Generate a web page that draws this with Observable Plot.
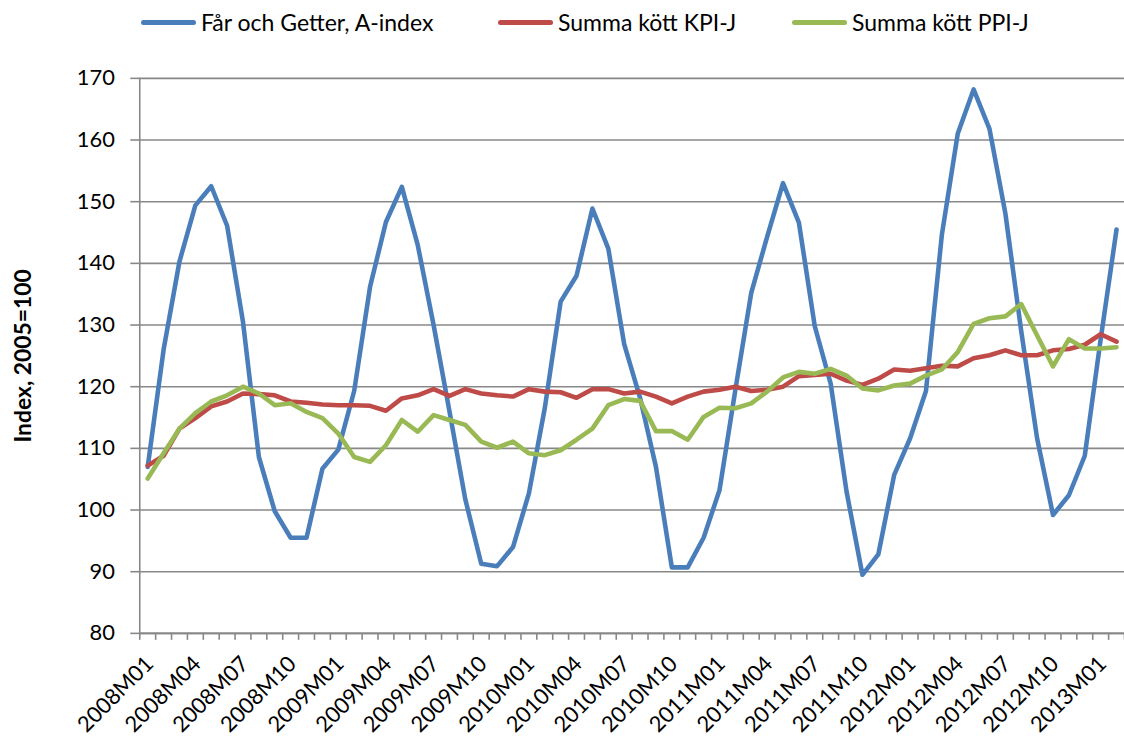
<!DOCTYPE html>
<html>
<head>
<meta charset="utf-8">
<script src="https://cdn.jsdelivr.net/npm/d3@7"></script>
<script src="https://cdn.jsdelivr.net/npm/@observablehq/plot@0.6"></script>
<style>
  html, body { margin: 0; padding: 0; background: #fff; overflow: hidden; }
  body { width: 1124px; height: 745px; font-family: Lato, "Open Sans", sans-serif; }
  #legend { position: relative; height: 50px; width: 1124px; }
  .item { position: absolute; top: 9px; height: 26px; display: flex; align-items: center; font-size: 23px; color: #000; white-space: nowrap; }
  .sw { width: 55px; height: 5px; border-radius: 3px; margin-right: 5px; }
  #chart svg { display: block; }
</style>
</head>
<body>
<div id="legend"></div>
<div id="chart"></div>
<script>
const months = [
  "2008M01","2008M02","2008M03","2008M04","2008M05","2008M06","2008M07","2008M08","2008M09","2008M10","2008M11","2008M12",
  "2009M01","2009M02","2009M03","2009M04","2009M05","2009M06","2009M07","2009M08","2009M09","2009M10","2009M11","2009M12",
  "2010M01","2010M02","2010M03","2010M04","2010M05","2010M06","2010M07","2010M08","2010M09","2010M10","2010M11","2010M12",
  "2011M01","2011M02","2011M03","2011M04","2011M05","2011M06","2011M07","2011M08","2011M09","2011M10","2011M11","2011M12",
  "2012M01","2012M02","2012M03","2012M04","2012M05","2012M06","2012M07","2012M08","2012M09","2012M10","2012M11","2012M12",
  "2013M01","2013M02"
];
const tickLabels = ["2008M01","2008M04","2008M07","2008M10","2009M01","2009M04","2009M07","2009M10",
  "2010M01","2010M04","2010M07","2010M10","2011M01","2011M04","2011M07","2011M10",
  "2012M01","2012M04","2012M07","2012M10","2013M01"];
const yTicks = [80, 90, 100, 110, 120, 130, 140, 150, 160, 170];

const seriesNames = ["Får och Getter, A-index", "Summa kött KPI-J", "Summa kött PPI-J"];
const seriesColors = ["#4A7EBB", "#BE4B48", "#98B954"];

const farGetter = [
  107.0, 126.0, 140.3, 149.4, 152.5, 146.1, 130.5, 108.6, 99.8, 95.5, 95.5, 106.7,
  109.8, 119.3, 136.2, 146.7, 152.4, 143.0, 130.0, 116.0, 101.7, 91.3, 90.9, 94.0,
  102.7, 116.5, 133.8, 138.0, 148.9, 142.4, 126.9, 118.2, 107.0, 90.7, 90.7, 95.5,
  103.2, 119.5, 135.2, 144.3, 153.0, 146.6, 129.8, 120.5, 103.0, 89.5, 92.8, 105.7,
  111.6, 119.3, 144.6, 161.0, 168.2, 161.8, 148.1, 129.0, 111.6, 99.2, 102.4, 108.8,
  127.7, 145.5
];
const kpiJ = [
  107.2, 108.8, 113.2, 114.9, 116.8, 117.6, 118.9, 118.8, 118.6, 117.6, 117.4, 117.1,
  117.0, 117.0, 116.9, 116.1, 118.1, 118.6, 119.6, 118.5, 119.6, 118.9, 118.6, 118.4,
  119.6, 119.2, 119.1, 118.2, 119.6, 119.6, 118.9, 119.2, 118.4, 117.3, 118.4, 119.2,
  119.5, 120.0, 119.3, 119.5, 120.0, 121.7, 121.9, 122.1, 121.0, 120.3, 121.3, 122.8,
  122.6, 123.0, 123.4, 123.3, 124.6, 125.1, 125.9, 125.1, 125.1, 125.9, 126.1, 126.8,
  128.5, 127.3
];
const ppiJ = [
  105.1, 109.2, 113.2, 115.7, 117.6, 118.6, 120.0, 118.9, 117.0, 117.3, 115.9, 114.9,
  112.4, 108.6, 107.8, 110.5, 114.6, 112.7, 115.4, 114.6, 113.8, 111.1, 110.1, 111.1,
  109.2, 108.9, 109.7, 111.4, 113.2, 117.0, 118.0, 117.7, 112.8, 112.8, 111.4, 115.1,
  116.6, 116.5, 117.3, 119.2, 121.5, 122.4, 122.1, 122.9, 121.8, 119.7, 119.4, 120.2,
  120.5, 121.8, 122.8, 125.6, 130.2, 131.1, 131.4, 133.4, 128.3, 123.3, 127.7, 126.2,
  126.2, 126.4
];

// Legend (HTML, above the SVG)
const legendLefts = [141, 498, 792];
const legend = document.getElementById("legend");
seriesNames.forEach((name, k) => {
  const it = document.createElement("div");
  it.className = "item";
  it.style.left = legendLefts[k] + "px";
  const sw = document.createElement("div");
  sw.className = "sw";
  sw.style.background = seriesColors[k];
  it.appendChild(sw);
  const tx = document.createElement("span");
  tx.textContent = name;
  it.appendChild(tx);
  legend.appendChild(it);
});

const allSeries = [farGetter, kpiJ, ppiJ];
const data = [];
allSeries.forEach((vals, k) => vals.forEach((v, i) => data.push({i, month: months[i], value: v, series: seriesNames[k]})));

const boundaries = d3.range(months.length + 1).map(k => k - 0.5);
const labelIdx = tickLabels.map(t => months.indexOf(t));
const gridColor = "#888888";

const chart = Plot.plot({
  width: 1130,
  height: 695,
  marginLeft: 140,
  marginRight: 0,
  marginTop: 28,
  marginBottom: 109,
  style: {fontFamily: "Lato, 'Open Sans', sans-serif", fontSize: "21px", color: "#000", background: "#fff", overflow: "visible"},
  x: {type: "linear", domain: [-0.5, months.length - 0.5]},
  y: {domain: [80, 170]},
  color: {domain: seriesNames, range: seriesColors},
  marks: [
    Plot.gridY(yTicks, {stroke: gridColor, strokeOpacity: 1, strokeWidth: 1.6}),
    Plot.axisY(yTicks, {tickSize: 9, tickPadding: 16, stroke: gridColor, strokeWidth: 1.6, fontSize: 22, fill: "#000", label: null}),
    Plot.axisX(boundaries, {tickSize: 7, tickFormat: () => "", stroke: gridColor, strokeWidth: 1.6, label: null}),
    Plot.ruleX([-0.5], {stroke: gridColor, strokeWidth: 1.6}),
    Plot.ruleY([80], {stroke: gridColor, strokeWidth: 1.6}),
    Plot.text(labelIdx, {x: d => d, frameAnchor: "bottom", text: d => months[d], rotate: -45,
      textAnchor: "end", lineAnchor: "middle", dx: 2, dy: 27, fontSize: 22, fill: "#000"}),
    Plot.text(["Index, 2005=100"], {frameAnchor: "left", rotate: -90, dx: -117, textAnchor: "middle",
      fontWeight: "bold", fontSize: 23, fill: "#000"}),
    Plot.line(data, {x: "i", y: "value", z: "series", stroke: "series", strokeWidth: 4.6, strokeLinejoin: "round", strokeLinecap: "round"})
  ]
});
document.getElementById("chart").appendChild(chart);
</script>
</body>
</html>
